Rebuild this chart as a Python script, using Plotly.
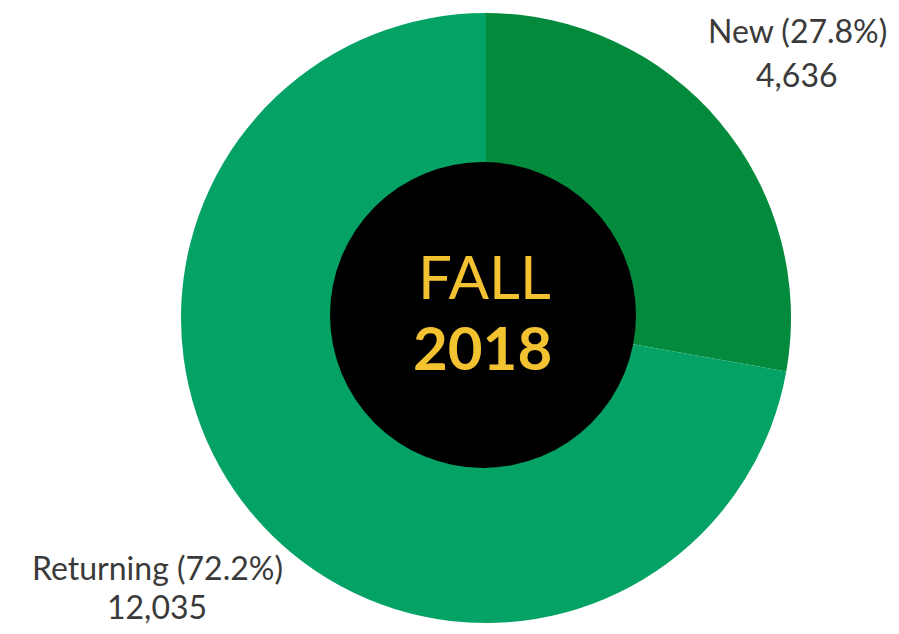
import plotly.graph_objects as go

categories = ["New", "Returning"]
values = [4636, 12035]
percent_labels = ["27.8%", "72.2%"]
colors = ["#038A3C", "#05A265"]
center_lines = ["FALL", "2018"]

W, H = 899, 634
OFF = 8  # page body margin offset
cx, cy_top = 486 - OFF, 318 - OFF
cy = H - cy_top
R = 305
hx, hy_top, r = 483 - OFF, 315 - OFF, 153
hy = H - hy_top


def px(x):
    return (x - OFF) / W


def py(y):
    return 1 - (y - OFF) / H


fig = go.Figure()
fig.add_trace(go.Pie(
    labels=categories, values=values, sort=False, direction="clockwise",
    rotation=0, textinfo="none", hoverinfo="skip",
    marker=dict(colors=colors, line=dict(width=0)),
    domain=dict(x=[(cx - R) / W, (cx + R) / W], y=[(cy - R) / H, (cy + R) / H]),
    showlegend=False,
))
fig.add_trace(go.Pie(
    labels=["hole"], values=[1], textinfo="none", hoverinfo="skip",
    marker=dict(colors=["#000000"], line=dict(width=0)),
    domain=dict(x=[(hx - r) / W, (hx + r) / W], y=[(hy - r) / H, (hy + r) / H]),
    showlegend=False,
))

label_font = dict(family="Lato", size=32, color="#3a3a3a")
common = dict(xref="paper", yref="paper", showarrow=False, xanchor="center", yanchor="middle")
fig.add_annotation(x=px(797), y=py(31), text=f"{categories[0]} ({percent_labels[0]})", font=label_font, **common)
fig.add_annotation(x=px(797), y=py(74), text=f"{values[0]:,}", font=label_font, **common)
fig.add_annotation(x=px(157), y=py(567), text=f"{categories[1]} ({percent_labels[1]})", font=label_font, **common)
fig.add_annotation(x=px(157), y=py(606), text=f"{values[1]:,}", font=label_font, **common)

gold = "#F2C230"
fig.add_annotation(x=px(484), y=py(276), text=center_lines[0],
                   font=dict(family="Lato", size=60, color=gold), **common)
fig.add_annotation(x=px(483), y=py(347), text=f"<b>{center_lines[1]}</b>",
                   font=dict(family="Lato", size=60, color=gold), **common)

fig.update_layout(width=W, height=H, margin=dict(l=0, r=0, t=0, b=0),
                  paper_bgcolor="white", plot_bgcolor="white")
fig.write_html("out.html")
